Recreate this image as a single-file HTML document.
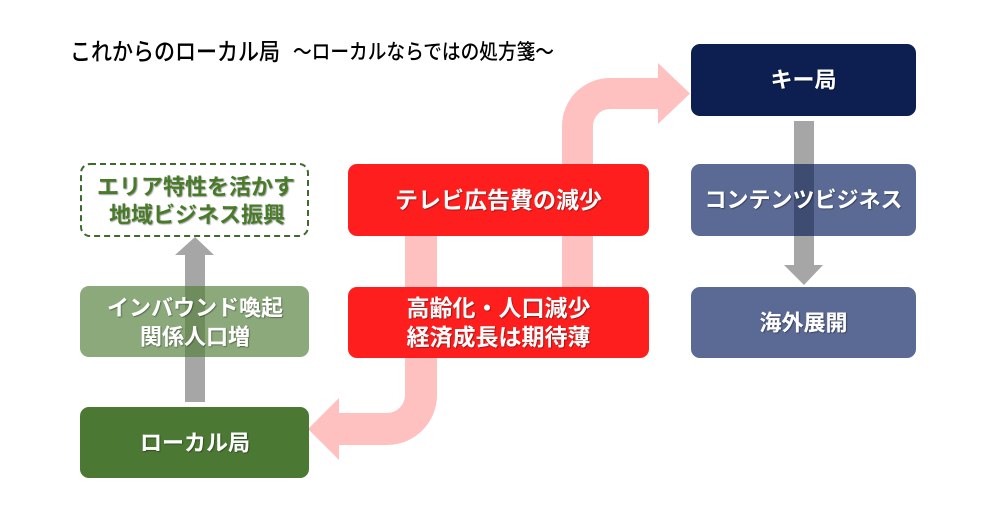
<!DOCTYPE html>
<html><head><meta charset="utf-8">
<style>
html,body{margin:0;padding:0;background:#fff;}
svg{display:block;}
text{font-family:"Liberation Sans","Noto Sans CJK JP",sans-serif;}
.w{fill:#fff;font-weight:700;font-size:22px;text-anchor:middle;dominant-baseline:central;}
.g{fill:#4a7a2c;font-weight:700;font-size:22px;text-anchor:middle;dominant-baseline:central;}
</style></head>
<body>
<svg width="1000" height="515" viewBox="0 0 1000 515" xmlns="http://www.w3.org/2000/svg">
<defs>
<filter id="sh" x="-5%" y="-20%" width="110%" height="140%">
<feDropShadow dx="0.8" dy="0.8" stdDeviation="0.6" flood-color="#000" flood-opacity="0.45"/>
</filter>
</defs>
<rect width="1000" height="515" fill="#fff"/>
<!-- title -->
<text x="70" y="60" font-size="24" fill="#000" font-weight="500" textLength="210" lengthAdjust="spacingAndGlyphs">これからのローカル局</text>
<text x="293" y="59" font-size="21" fill="#000" font-weight="500" textLength="261" lengthAdjust="spacingAndGlyphs">～ローカルならではの処方箋～</text>

<!-- pink arrows -->
<path d="M562,300 L562,126 A48,48 0 0 1 610,78 L658,78 L658,63 L690,93.5 L658,124 L658,109 L610,109 A17,17 0 0 0 593,126 L593,300 Z" fill="#ffc0c0"/>
<path d="M437,200 L437,395 A50,50 0 0 1 387,445 L339,445 L339,460 L308,429 L339,398 L339,413 L387,413 A18,18 0 0 0 405,395 L405,200 Z" fill="#ffc0c0"/>

<!-- gray arrows -->
<rect x="185" y="255" width="20" height="147" fill="#a6a6a6"/>
<polygon points="175,255 214,255 195,237" fill="#a6a6a6"/>
<rect x="794" y="121" width="20" height="144" fill="#a6a6a6"/>
<polygon points="784,265 823,265 804,285" fill="#a6a6a6"/>

<!-- left column -->
<rect x="81" y="164" width="227" height="72" rx="9" fill="#fff" stroke="#3d6b2e" stroke-width="2" stroke-dasharray="6,4"/>
<rect x="80" y="286" width="229" height="71" rx="9" fill="#8ba97a"/>
<rect x="185" y="286" width="20" height="71" fill="#6e8c5c"/>
<rect x="80" y="407" width="229" height="71" rx="9" fill="#4b7833"/>

<!-- middle -->
<rect x="348" y="164" width="301" height="72" rx="9" fill="#ff1e1e"/>
<rect x="348" y="287" width="301" height="71" rx="9" fill="#ff1e1e"/>

<!-- right -->
<rect x="691" y="44" width="225" height="72" rx="9" fill="#0c1f50"/>
<rect x="691" y="164" width="225" height="72" rx="9" fill="#5a6a94"/>
<rect x="794" y="164" width="20" height="72" fill="#3e4c72"/>
<rect x="691" y="287" width="225" height="71" rx="9" fill="#5a6a94"/>

<!-- texts -->
<g filter="url(#sh)">
<text class="g" x="196" y="187">エリア特性を活かす</text>
<text class="g" x="197" y="215">地域ビジネス振興</text>
<text class="w" x="195" y="308">インバウンド喚起</text>
<text class="w" x="195" y="337">関係人口増</text>
<text class="w" x="195" y="443">ローカル局</text>
<text class="w" x="498.5" y="200" style="font-size:23px">テレビ広告費の減少</text>
<text class="w" x="498.5" y="308" style="font-size:23px">高齢化・人口減少</text>
<text class="w" x="498.5" y="337" style="font-size:23px">経済成長は期待薄</text>
<text class="w" x="803.5" y="80">キー局</text>
<text class="w" x="803.5" y="200">コンテンツビジネス</text>
<text class="w" x="803.5" y="323">海外展開</text>
</g>
</svg>
</body></html>
